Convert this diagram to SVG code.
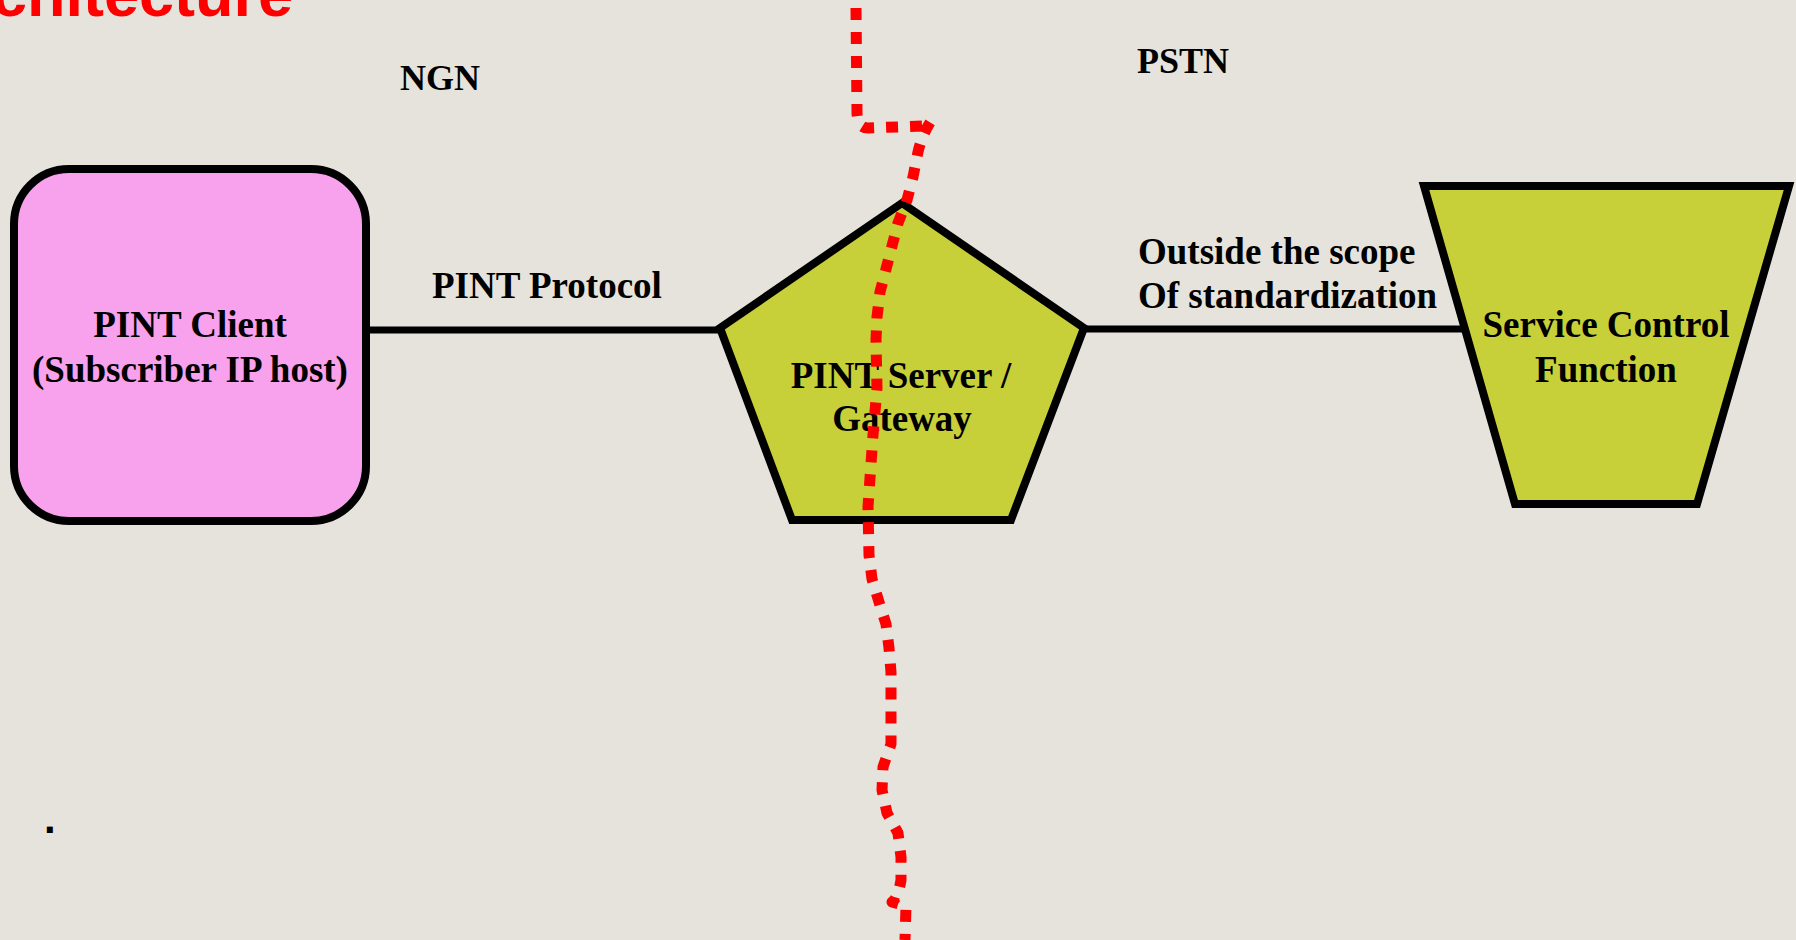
<svg xmlns="http://www.w3.org/2000/svg" width="1796" height="940" viewBox="0 0 1796 940">
  <style>
    .shape { stroke: #000; stroke-width: 8; stroke-linejoin: miter; }
    .label { font-family: "Liberation Serif", "Times New Roman", serif; font-weight: bold; font-size: 37px; fill: #000; }
    .mid { text-anchor: middle; }
    .link { stroke: #000; stroke-width: 7; fill: none; }
    .border { fill: none; stroke: #FF0000; stroke-width: 11; stroke-dasharray: 12 12; stroke-linecap: butt; stroke-linejoin: round; }
  </style>

  <!-- slide background -->
  <rect x="0" y="0" width="1796" height="940" fill="#E5E3DC"/>

  <!-- slide title (runs off the top-left edge) -->
  <text x="293" y="16" text-anchor="end" font-family="'Liberation Sans', Arial, sans-serif" font-weight="bold" font-size="63" fill="#FF0000">Architecture</text>

  <!-- domain labels -->
  <text class="label" x="400" y="90" style="font-size:36px">NGN</text>
  <text class="label" x="1137" y="73" style="font-size:36px">PSTN</text>

  <!-- connectors -->
  <g id="connectors">
    <line class="link" x1="366" y1="330" x2="722" y2="330"/>
    <line class="link" x1="1084" y1="329" x2="1467" y2="329"/>
    <text class="label" x="432" y="298">PINT Protocol</text>
    <text class="label" x="1138" y="264">Outside the scope</text>
    <text class="label" x="1138" y="308">Of standardization</text>
  </g>

  <!-- PINT client -->
  <g id="pint-client">
    <rect class="shape" x="14" y="169" width="352" height="352" rx="55" ry="55" fill="#F8A1EC"/>
    <text class="label mid" x="190" y="337">PINT Client</text>
    <text class="label mid" x="190" y="382">(Subscriber IP host)</text>
  </g>

  <!-- PINT server / gateway -->
  <g id="pint-server">
    <polygon class="shape" points="902,203 1084,328 1011,520 792,520 720,328" fill="#C7D038"/>
    <text class="label mid" x="901" y="388">PINT Server /</text>
    <text class="label mid" x="902" y="431">Gateway</text>
  </g>

  <!-- service control function -->
  <g id="service-control">
    <polygon class="shape" points="1424,186 1789,186 1697,504 1515,504" fill="#C7D038"/>
    <text class="label mid" x="1606" y="337">Service Control</text>
    <text class="label mid" x="1606" y="382">Function</text>
  </g>

  <!-- NGN / PSTN boundary -->
  <path class="border" d="M856,8 L857,112 Q857,128 868,128 L922,126 L931,121 Q922,135 918,152 L913,177 L907,200 L898,223 L892,246 L886,269 L880,292 L877,317 L876,340 L877,388 L873,435 L868,507 L869,555 L872,579 L879,602 L886,624 L889,648 L891,672 L891,744 L883,767 L882,790 L887,813 L898,833 L901,857 L901,880 Q898,898 892,902 L906,906 L905,940"/>

  <!-- stray full stop -->
  <text x="44" y="833" font-family="'Liberation Sans', Arial, sans-serif" font-weight="bold" font-size="42" fill="#000">.</text>
</svg>
